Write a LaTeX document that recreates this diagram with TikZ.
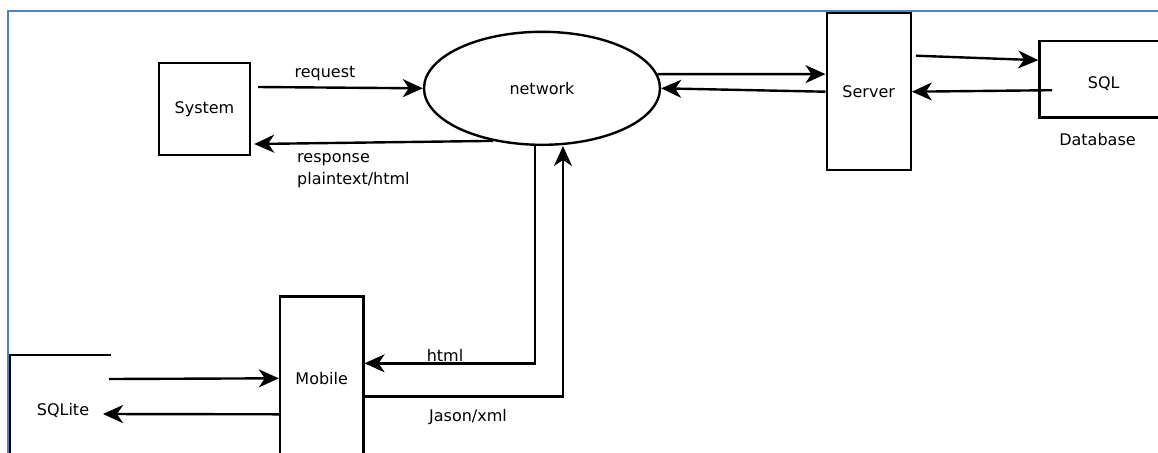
\documentclass[tikz,border=0pt]{standalone}
\usepackage{fontspec}
\setmainfont{DejaVu Sans}
\usepackage{tikz}
\usetikzlibrary{shapes.geometric,arrows.meta}

\definecolor{framecol}{RGB}{79,129,189}

\tikzset{
    box/.style={draw, rectangle, inner sep=0pt},
    txt/.style={inner sep=0pt}
}

\begin{document}
\begin{tikzpicture}[x=0.5pt, y=-0.5pt, line width=1.2pt,
    >={Stealth[length=10pt,width=9pt,inset=3pt]},
    every node/.style={font=\fontsize{8}{11}\selectfont}]

    \useasboundingbox (0,0) rectangle (1158,452);
    \clip (0,0) rectangle (1158,452);

    \draw[framecol, line width=1pt] (8,480) -- (8,11) -- (1180,11);

    \node[box, minimum width=45.5pt, minimum height=46pt] (sys) at (204.5,109) {System};
    \node[draw, ellipse, minimum width=118pt, minimum height=56.5pt, inner sep=0pt] (net) at (542,88.3) {network};
    \node[box, minimum width=42pt, minimum height=78.5pt] (srv) at (868.7,91.7) {Server};
    \node[box, minimum width=70.3pt, minimum height=38.2pt] (sql) at (1109.7,79.2) {};
    \node[txt] (sqltxt) at (1103.7,83.3) {SQL};
    \node[txt] (db) at (1097.5,140) {Database};
    \node[box, minimum width=41.7pt, minimum height=81.7pt] (mob) at (321.7,378.3) {Mobile};
    \node[txt] (lite) at (63,410) {SQLite};
    \draw (111,355) -- (10,355) -- (10,480);

    \draw[->] ([shift={(3.5pt,11pt)}]sys.east) -- (net.west);
    \draw[->] (net.227) -- ([shift={(1.5pt,-17.5pt)}]sys.east);
    \draw[->] (net.7) -- ([yshift=8.8pt]srv.west);
    \draw[->] (srv.west) -- (net.east);
    \draw[->] ([shift={(2pt,18pt)}]srv.east) -- ([yshift=9.5pt]sql.west);
    \draw[->] ([shift={(7pt,-5.5pt)}]sql.west) -- (srv.east);
    \draw[->] ([xshift=-3.5pt]net.south) |- ([yshift=7.5pt]mob.east);
    \draw[->] ([yshift=-9pt]mob.east) -| ([xshift=10.5pt]net.south);
    \draw[->] ([shift={(23pt,15.5pt)}]lite.center) -- (mob.west);
    \draw[->] ([yshift=-18pt]mob.west) -- ([shift={(20pt,-2pt)}]lite.center);

    \node[txt] (req) at (325,74) {request};
    \node[txt, anchor=west, align=left] (resp) at (296,171) {response\\plaintext/html};
    \node[txt] (htm) at (445,355) {html};
    \node[txt] (jx) at (468,416.7) {Jason/xml};

\end{tikzpicture}
\end{document}
